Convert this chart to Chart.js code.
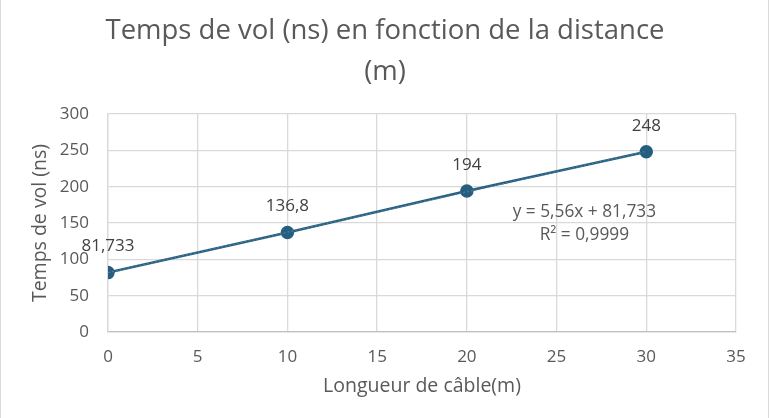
<!DOCTYPE html>
<html>
<head>
<meta charset="utf-8">
<script src="https://cdn.jsdelivr.net/npm/chart.js@4/dist/chart.umd.min.js"></script>
<style>
  html, body { margin: 0; padding: 0; background: #ffffff; }
  #wrap { width: 770px; height: 418px; position: relative; }
</style>
</head>
<body>
<div id="wrap"><canvas id="c" width="770" height="418"></canvas></div>
<script>
// ---- data ----
const cableLength = [0, 10, 20, 30];
const flightTime = [81.733, 136.8, 194, 248];
const trendX = [0, 30];
const trendY = [81.733, 248.533];
const xTicks = [0, 5, 10, 15, 20, 25, 30, 35];
const yTicks = [0, 50, 100, 150, 200, 250, 300];
const titleLines = ['Temps de vol (ns) en fonction de la distance', '(m)'];
const xTitle = 'Longueur de câble(m)';
const yTitle = 'Temps de vol (ns)';
const equationLines = ['y = 5,56x + 81,733', 'R² = 0,9999'];

const FONT = "'Open Sans', 'Noto Sans', sans-serif";
const LINE_COLOR = '#275e7f';
const TEXT = '#595959';

const frFmt = v => String(v).replace('.', ',');

const extras = {
  id: 'extras',
  beforeDraw(chart) {
    const ctx = chart.ctx;
    ctx.save();
    ctx.strokeStyle = '#d9d9d9';
    ctx.lineWidth = 1;
    ctx.beginPath();
    ctx.moveTo(0.5, 0); ctx.lineTo(0.5, chart.height);
    ctx.moveTo(chart.width - 1.5, 0); ctx.lineTo(chart.width - 1.5, chart.height);
    ctx.stroke();
    // chart title, centred on the whole canvas
    ctx.fillStyle = TEXT;
    ctx.font = "27.5px " + FONT;
    ctx.textAlign = 'center';
    ctx.textBaseline = 'middle';
    ctx.fillText(titleLines[0], chart.width / 2, 30.7);
    ctx.fillText(titleLines[1], chart.width / 2, 72);
    ctx.restore();
  },
  afterDatasetsDraw(chart) {
    const ctx = chart.ctx;
    const xs = chart.scales.x, ys = chart.scales.y;
    ctx.save();
    ctx.fillStyle = '#404040';
    ctx.font = "17px " + FONT;
    ctx.textAlign = 'center';
    ctx.textBaseline = 'middle';
    cableLength.forEach((x, i) => {
      const px = xs.getPixelForValue(x);
      const py = ys.getPixelForValue(flightTime[i]);
      ctx.fillText(frFmt(flightTime[i]), px, py - 26);
    });
    // trendline equation
    ctx.fillStyle = TEXT;
    ctx.font = "17.3px " + FONT;
    const ex = xs.getPixelForValue(26.55);
    const ey = ys.getPixelForValue(165);
    ctx.fillText(equationLines[0], ex, ey);
    ctx.fillText(equationLines[1], ex, ey + 23);
    ctx.restore();
  }
};

new Chart(document.getElementById('c'), {
  type: 'scatter',
  data: {
    datasets: [
      {
        label: 'Temps de vol',
        data: cableLength.map((x, i) => ({ x, y: flightTime[i] })),
        showLine: true,
        borderColor: LINE_COLOR,
        backgroundColor: LINE_COLOR,
        borderWidth: 2.5,
        pointRadius: 5.5,
        pointHoverRadius: 5.5,
        order: 2
      },
      {
        label: 'Tendance',
        data: trendX.map((x, i) => ({ x, y: trendY[i] })),
        showLine: true,
        borderColor: '#4a7c98',
        borderWidth: 1.3,
        borderDash: [2, 2],
        pointRadius: 0,
        order: 1
      }
    ]
  },
  options: {
    responsive: false,
    animation: false,
    devicePixelRatio: 1,
    layout: { padding: { left: 0, right: 34, top: 114, bottom: 20 } },
    plugins: {
      legend: { display: false },
      tooltip: { enabled: false },
      title: { display: false }
    },
    scales: {
      x: {
        type: 'linear',
        min: 0, max: 35,
        afterBuildTicks: s => { s.ticks = xTicks.map(v => ({ value: v })); },
        afterFit: s => { s.height = 66; },
        grid: { color: '#d9d9d9', lineWidth: 1.3, drawTicks: false },
        border: { color: '#bfbfbf', width: 1.3 },
        ticks: { color: TEXT, font: { family: FONT, size: 17 }, padding: 15 },
        title: { display: true, text: xTitle, color: TEXT, font: { family: FONT, size: 19.5 }, padding: { top: 0, bottom: 0 } }
      },
      y: {
        type: 'linear',
        min: 0, max: 300,
        afterBuildTicks: s => { s.ticks = yTicks.map(v => ({ value: v })); },
        afterFit: s => { s.width = 108; },
        grid: { color: '#d9d9d9', lineWidth: 1.3, drawTicks: false },
        border: { color: '#d9d9d9', width: 1.3 },
        ticks: { color: TEXT, font: { family: FONT, size: 17 }, padding: 19 },
        title: { display: true, text: yTitle, color: TEXT, font: { family: FONT, size: 19.5 }, padding: { top: 29, bottom: 0 } }
      }
    }
  },
  plugins: [extras]
});
</script>
</body>
</html>
